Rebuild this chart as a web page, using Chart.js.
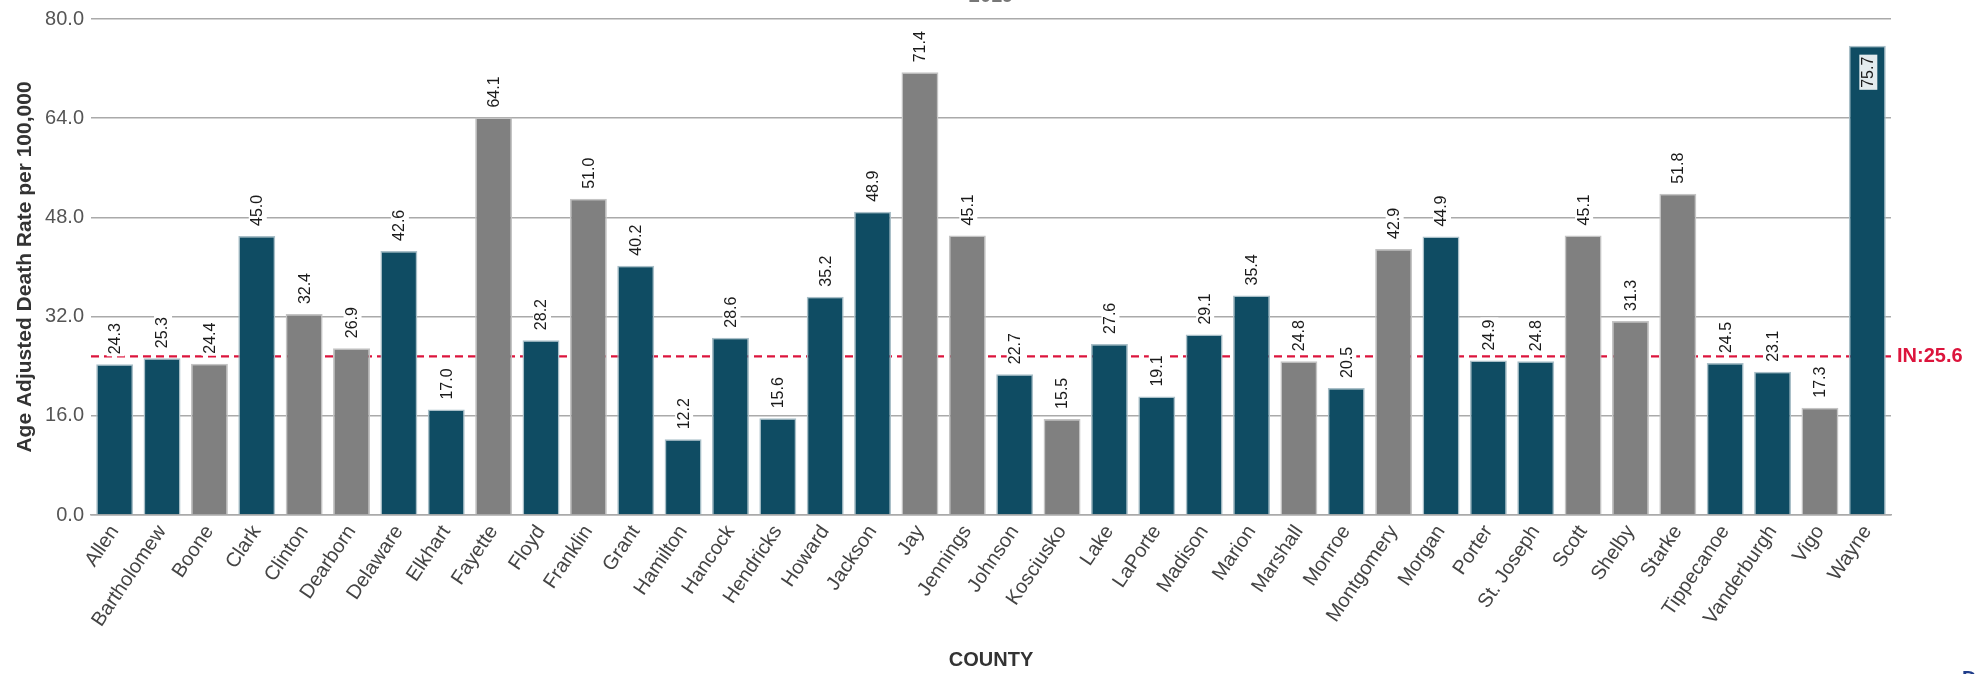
<!DOCTYPE html>
<html>
<head>
<meta charset="utf-8">
<script src="https://cdn.jsdelivr.net/npm/chart.js@4.4.1/dist/chart.umd.min.js"></script>
<style>
  html, body { margin: 0; padding: 0; background: #fff; }
  #wrap { width: 1987px; height: 674px; position: relative; }
</style>
</head>
<body>
<div id="wrap"><canvas id="c"></canvas></div>
<script>
const counties = ["Allen","Bartholomew","Boone","Clark","Clinton","Dearborn","Delaware","Elkhart","Fayette","Floyd","Franklin","Grant","Hamilton","Hancock","Hendricks","Howard","Jackson","Jay","Jennings","Johnson","Kosciusko","Lake","LaPorte","Madison","Marion","Marshall","Monroe","Montgomery","Morgan","Porter","St. Joseph","Scott","Shelby","Starke","Tippecanoe","Vanderburgh","Vigo","Wayne"];
const rates = [24.3,25.3,24.4,45.0,32.4,26.9,42.6,17.0,64.1,28.2,51.0,40.2,12.2,28.6,15.6,35.2,48.9,71.4,45.1,22.7,15.5,27.6,19.1,29.1,35.4,24.8,20.5,42.9,44.9,24.9,24.8,45.1,31.3,51.8,24.5,23.1,17.3,75.7];
// 'T' = dark teal bar, 'G' = gray bar
const barGroup = ["T","T","G","T","G","G","T","T","G","T","G","T","T","T","T","T","T","G","G","T","G","T","T","T","T","G","T","G","T","T","T","G","G","G","T","T","G","T"];
const yTicks = [0, 16, 32, 48, 64, 80];
const stateRate = 25.6;
const stateLabel = "IN:25.6";
const chartTitle = "2019";

const TEAL = "#0f4c63";
const GRAY = "#808080";

const overlayPlugin = {
  id: "overlay",
  beforeDatasetsDraw(chart) {
    const {ctx, chartArea, scales} = chart;
    const y = scales.y.getPixelForValue(stateRate);
    ctx.save();
    ctx.strokeStyle = "#dc143c";
    ctx.lineWidth = 2.2;
    ctx.setLineDash([8, 5]);
    ctx.beginPath();
    ctx.moveTo(chartArea.left, y);
    ctx.lineTo(chartArea.right, y);
    ctx.stroke();
    ctx.restore();
  },
  afterDatasetsDraw(chart) {
    const {ctx, chartArea} = chart;
    const meta = chart.getDatasetMeta(0);
    ctx.save();
    ctx.font = "16px 'Liberation Sans', Arial, sans-serif";
    meta.data.forEach((bar, i) => {
      const txt = rates[i].toFixed(1);
      const w = ctx.measureText(txt).width;
      const h = 18;
      let bottomY, inside = false;
      if (bar.y - 10 - w - 2 < chartArea.top) {
        inside = true;
        bottomY = bar.y + 11 + w;
      } else {
        bottomY = bar.y - 10;
      }
      ctx.save();
      ctx.translate(bar.x + 1, bottomY);
      ctx.rotate(-Math.PI / 2);
      ctx.fillStyle = inside ? "#e4ebee" : "#ffffff";
      ctx.fillRect(-2, -h / 2, w + 4, h);
      ctx.fillStyle = "#1a1a1a";
      ctx.textAlign = "left";
      ctx.textBaseline = "middle";
      ctx.fillText(txt, 0, 0);
      ctx.restore();
    });
    ctx.restore();
  },
  afterDraw(chart) {
    const {ctx, chartArea, scales} = chart;
    const y = scales.y.getPixelForValue(stateRate);
    ctx.save();
    ctx.fillStyle = "#dc143c";
    ctx.font = "bold 20px 'Liberation Sans', Arial, sans-serif";
    ctx.textAlign = "left";
    ctx.textBaseline = "middle";
    ctx.fillText(stateLabel, chartArea.right + 6, y);
    // title, mostly cut off at the top edge
    ctx.fillStyle = "#777";
    ctx.textAlign = "center";
    ctx.textBaseline = "alphabetic";
    ctx.fillText(chartTitle, (chartArea.left + chartArea.right) / 2, 2);
    // cut-off link glyph at bottom right
    ctx.fillStyle = "#1f3d8a";
    ctx.textAlign = "left";
    ctx.textBaseline = "top";
    ctx.fillText("D", 1962, 669);
    ctx.restore();
  }
};

new Chart(document.getElementById("c"), {
  type: "bar",
  data: {
    labels: counties,
    datasets: [{
      data: rates,
      backgroundColor: barGroup.map(g => g === "T" ? TEAL : GRAY),
      borderColor: barGroup.map(g => g === "T" ? "#a9bfc8" : "#c4c4c4"),
      borderWidth: 1.5,
      barPercentage: 0.78,
      categoryPercentage: 1.0
    }]
  },
  options: {
    responsive: true,
    maintainAspectRatio: false,
    animation: false,
    layout: { padding: { top: 16, right: 96, bottom: 0, left: 0 } },
    plugins: {
      legend: { display: false },
      tooltip: { enabled: false },
      title: { display: false }
    },
    scales: {
      x: {
        grid: { display: false, drawTicks: false },
        border: { display: true, color: "#aaaaaa", width: 1.5 },
        ticks: {
          autoSkip: false,
          minRotation: 56,
          maxRotation: 56,
          padding: 6,
          color: "#444",
          font: { size: 20, family: "'Liberation Sans', Arial, sans-serif" }
        },
        title: {
          display: true,
          text: "COUNTY",
          color: "#333",
          font: { size: 20, weight: "bold", family: "'Liberation Sans', Arial, sans-serif" },
          padding: { top: 0, bottom: 2 }
        },
        afterFit(scale) { scale.height = 159; }
      },
      y: {
        min: 0,
        max: 80,
        afterBuildTicks(scale) { scale.ticks = yTicks.map(v => ({ value: v })); },
        grid: { color: "#aaaaaa", lineWidth: 1.5, drawTicks: false },
        border: { display: false },
        ticks: {
          padding: 7,
          color: "#555",
          font: { size: 20, family: "'Liberation Sans', Arial, sans-serif" },
          callback: v => Number(v).toFixed(1)
        },
        title: {
          display: true,
          text: "Age Adjusted Death Rate per 100,000",
          color: "#333",
          font: { size: 21, weight: "bold", family: "'Liberation Sans', Arial, sans-serif" },
          padding: { top: 13, bottom: 0 }
        },
        afterFit(scale) { scale.width = 91; }
      }
    }
  },
  plugins: [overlayPlugin]
});
</script>
</body>
</html>
